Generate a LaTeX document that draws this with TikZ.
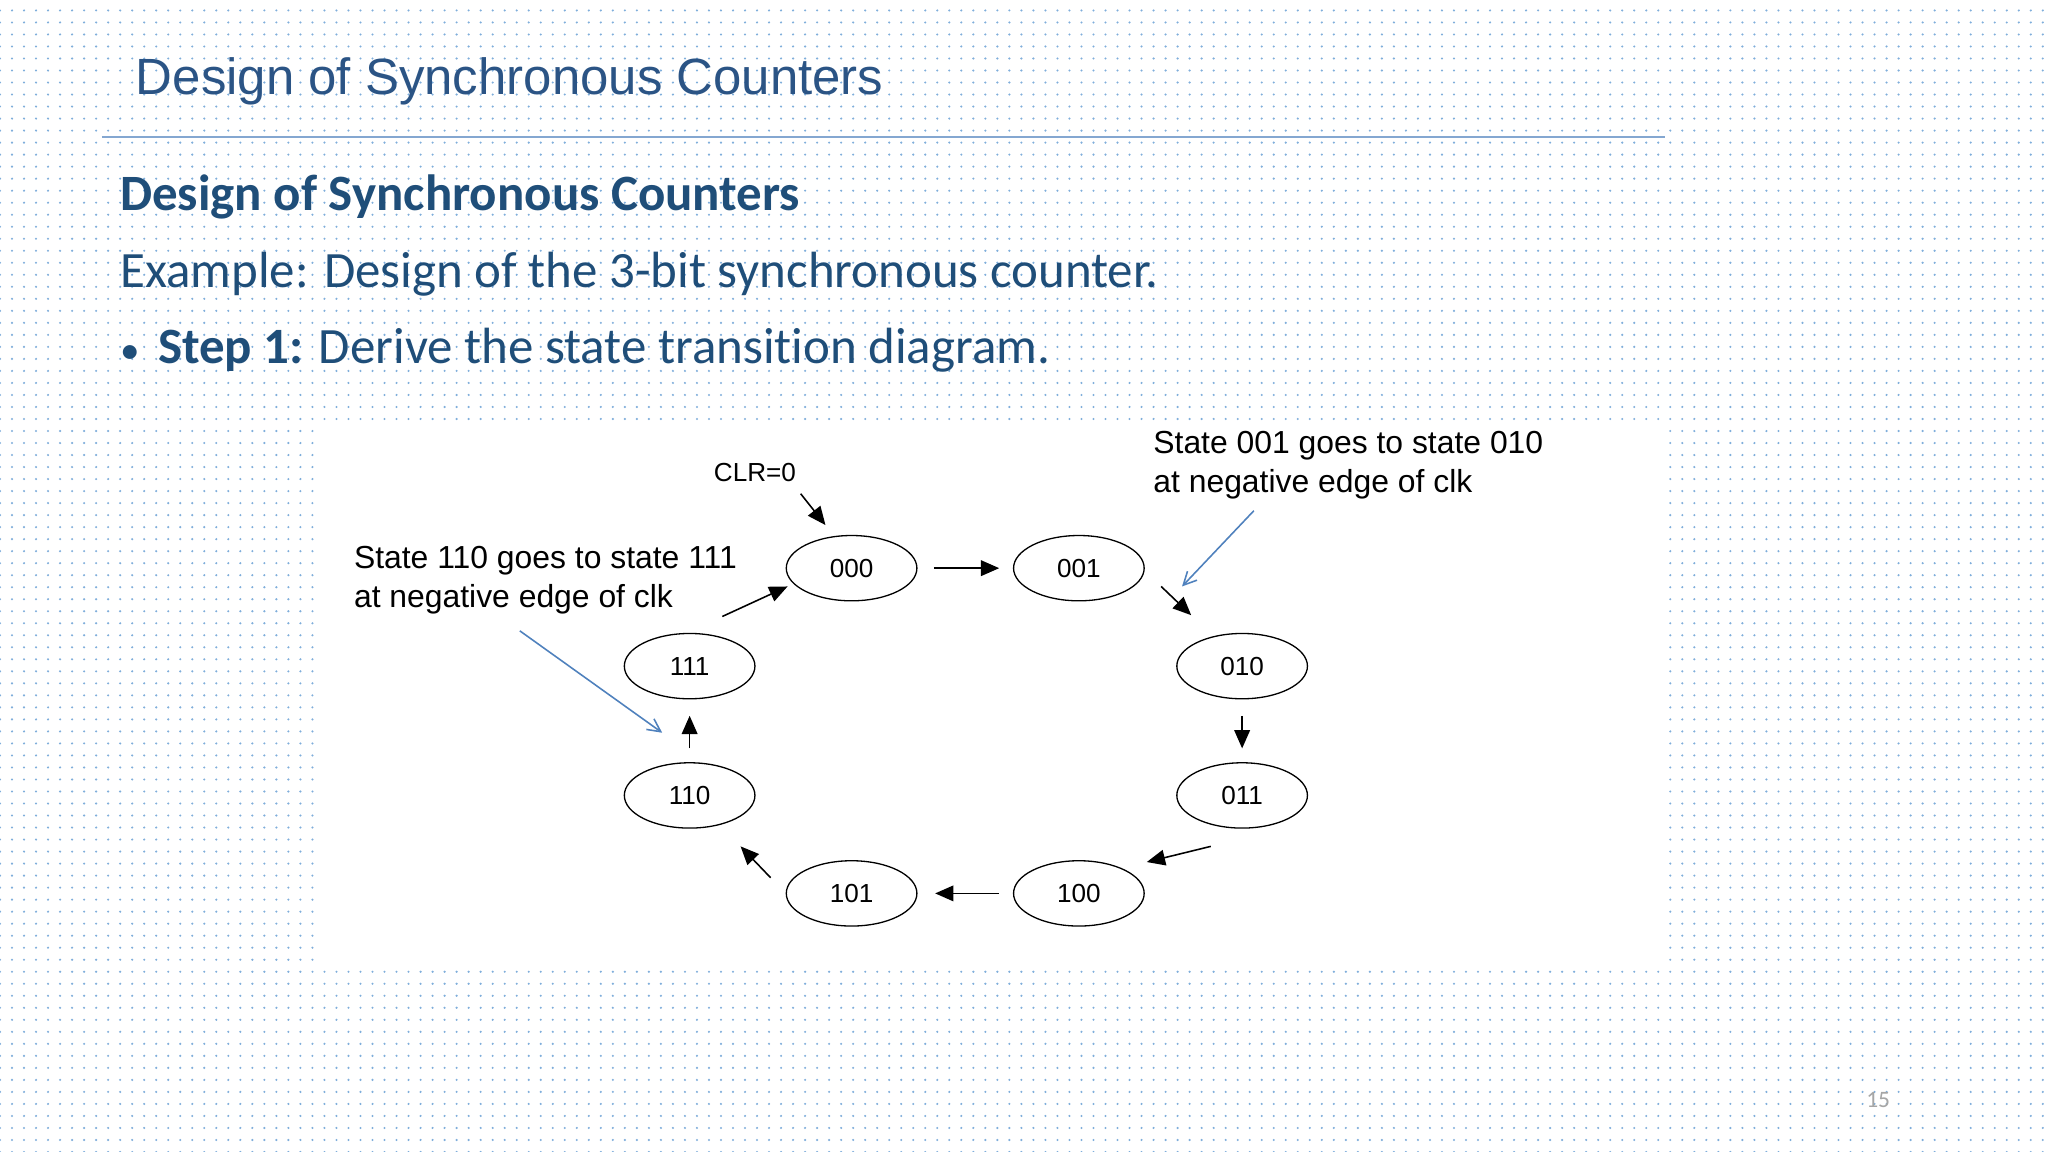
\documentclass[tikz,border=0pt]{standalone}
\usepackage{fontspec}
\setmainfont{Liberation Sans}
\newfontfamily\calib[RawFeature=-liga]{Carlito}
\usetikzlibrary{shapes.geometric,arrows.meta,patterns.meta}
\definecolor{navy}{HTML}{1F4E79}
\definecolor{ttl}{HTML}{2B5485}
\definecolor{dotc}{HTML}{7FAEDB}
\definecolor{annob}{HTML}{4F81BD}
\begin{document}
\begin{tikzpicture}[x=0.5pt,y=-0.5pt,
  st/.style={draw,ellipse,minimum width=50pt,minimum height=25pt,inner sep=0pt,font=\fontsize{10}{12}\selectfont,line width=0.5pt},
  tr/.style={-{Triangle[length=7pt,width=6pt]},line width=0.6pt},
  bl/.style={-{Straight Barb[length=5pt,width=5pt]},draw=annob,line width=0.6pt},
  note/.style={anchor=west,align=left,font=\fontsize{12.2}{15}\selectfont}]
\useasboundingbox (0,0) rectangle (1568,882);
\fill[white] (0,0) rectangle (1568,882);
\pattern[pattern={Dots[distance=4.6pt,radius=0.45pt]},pattern color=dotc] (0,0) rectangle (1568,882);
\fill[white] (245,328) rectangle (1275,740);
\node[anchor=west,text=ttl,font=\fontsize{19.5}{22}\selectfont] (title) at (97,62) {Design of Synchronous Counters};
\draw[annob!70,line width=0.6pt] (78,105) -- (1275,105);
\node[anchor=west,text=navy,font=\calib\bfseries\fontsize{19.5}{22}\selectfont] (h) at (85,151) {Design of Synchronous Counters};
\node[anchor=west,text=navy,font=\calib\fontsize{19.5}{22}\selectfont] (ex) at (85,210) {Example: Design of the 3-bit synchronous counter.};
\node[anchor=west,text=navy,font=\calib\fontsize{19.5}{22}\selectfont] (s1) at (85,268) {{\fontsize{15}{15}\selectfont •}\hspace{7pt}\textbf{Step 1:} Derive the state transition diagram.};
\node[st] (s000) at (652,435) {000};
\node[st] (s001) at (826,435) {001};
\node[st] (s010) at (951,510) {010};
\node[st] (s011) at (951,609) {011};
\node[st] (s100) at (826,684) {100};
\node[st] (s101) at (652,684) {101};
\node[st] (s110) at (528,609) {110};
\node[st] (s111) at (528,510) {111};
\draw[tr] ([shift={(63,0)}]s000.center) -- ([shift={(-61,0)}]s001.center);
\draw[tr] ([shift={(63,14)}]s001.center) -- ([shift={(-39,-39)}]s010.center);
\draw[tr] ([shift={(0,38)}]s010.center) -- ([shift={(0,-36)}]s011.center);
\draw[tr] ([shift={(-24,39)}]s011.center) -- ([shift={(52,-24)}]s100.center);
\draw[tr] ([shift={(-61,0)}]s100.center) -- ([shift={(64,0)}]s101.center);
\draw[tr] ([shift={(-62,-12)}]s101.center) -- ([shift={(39,39)}]s110.center);
\draw[tr] ([shift={(0,-36)}]s110.center) -- ([shift={(0,38)}]s111.center);
\draw[tr] ([shift={(25,-38)}]s111.center) -- ([shift={(-49,14)}]s000.center);
\node[font=\fontsize{10}{12}\selectfont] (clr) at (578,362) {CLR=0};
\draw[tr] ([shift={(35,16)}]clr.center) -- ([shift={(-20,-33)}]s000.center);
\node[note] (n1) at (264,444) {State 110 goes to state 111\\at negative edge of clk};
\node[note] (n2) at (876,356) {State 001 goes to state 010\\at negative edge of clk};
\coordinate (a1s) at (398,483); \coordinate (a1e) at (507,561);
\coordinate (a2s) at (960,391); \coordinate (a2e) at (905,449);
\draw[bl] (a1s) -- (a1e);
\draw[bl] (a2s) -- (a2e);
\node[text=gray!70,font=\calib\fontsize{9}{10}\selectfont] (pg) at (1438,842) {15};
\end{tikzpicture}
\end{document}
